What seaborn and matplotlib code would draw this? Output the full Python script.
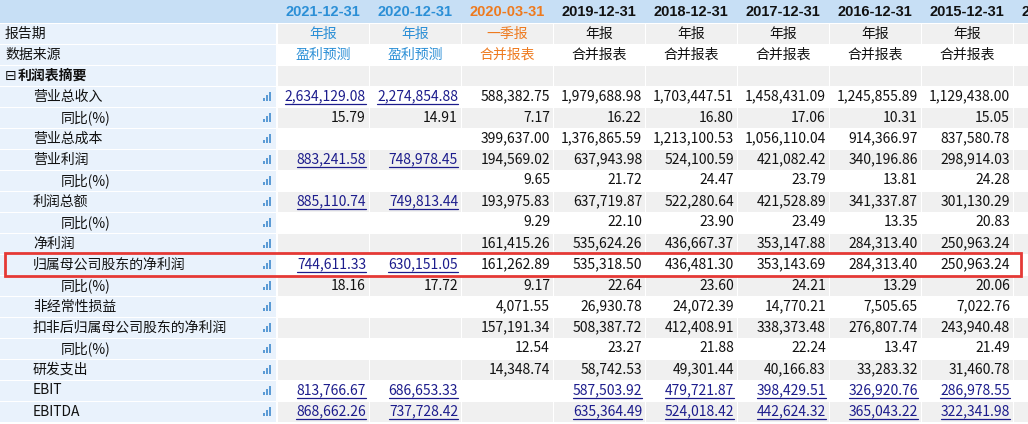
import matplotlib
matplotlib.use("Agg")
import matplotlib.pyplot as plt
import seaborn as sns
from matplotlib.patches import Rectangle

sns.set_theme(style="white")
plt.rcParams['font.family'] = ['Noto Sans CJK SC', 'DejaVu Sans']

# ---- data ----
dates = ["2021-12-31", "2020-12-31", "2020-03-31", "2019-12-31", "2018-12-31",
         "2017-12-31", "2016-12-31", "2015-12-31", "2014-12-31"]
report_types = ["年报", "年报", "一季报", "年报", "年报", "年报", "年报", "年报"]
sources = ["盈利预测", "盈利预测", "合并报表", "合并报表", "合并报表", "合并报表",
           "合并报表", "合并报表"]
section_title = "利润表摘要"

row_labels = ["营业总收入", "同比(%)", "营业总成本", "营业利润", "同比(%)", "利润总额",
              "同比(%)", "净利润", "归属母公司股东的净利润", "同比(%)", "非经常性损益",
              "扣非后归属母公司股东的净利润", "同比(%)", "研发支出", "EBIT", "EBITDA"]
row_levels = [1, 2, 1, 1, 2, 1, 2, 1, 1, 2, 1, 1, 2, 1, 1, 1]
values = [
    ["2,634,129.08", "2,274,854.88", "588,382.75", "1,979,688.98", "1,703,447.51", "1,458,431.09", "1,245,855.89", "1,129,438.00"],
    ["15.79", "14.91", "7.17", "16.22", "16.80", "17.06", "10.31", "15.05"],
    ["", "", "399,637.00", "1,376,865.59", "1,213,100.53", "1,056,110.04", "914,366.97", "837,580.78"],
    ["883,241.58", "748,978.45", "194,569.02", "637,943.98", "524,100.59", "421,082.42", "340,196.86", "298,914.03"],
    ["", "", "9.65", "21.72", "24.47", "23.79", "13.81", "24.28"],
    ["885,110.74", "749,813.44", "193,975.83", "637,719.87", "522,280.64", "421,528.89", "341,337.87", "301,130.29"],
    ["", "", "9.29", "22.10", "23.90", "23.49", "13.35", "20.83"],
    ["", "", "161,415.26", "535,624.26", "436,667.37", "353,147.88", "284,313.40", "250,963.24"],
    ["744,611.33", "630,151.05", "161,262.89", "535,318.50", "436,481.30", "353,143.69", "284,313.40", "250,963.24"],
    ["18.16", "17.72", "9.17", "22.64", "23.60", "24.21", "13.29", "20.06"],
    ["", "", "4,071.55", "26,930.78", "24,072.39", "14,770.21", "7,505.65", "7,022.76"],
    ["", "", "157,191.34", "508,387.72", "412,408.91", "338,373.48", "276,807.74", "243,940.48"],
    ["", "", "12.54", "23.27", "21.88", "22.24", "13.47", "21.49"],
    ["", "", "14,348.74", "58,742.53", "49,301.44", "40,166.83", "33,283.32", "31,460.78"],
    ["813,766.67", "686,653.33", "", "587,503.92", "479,721.87", "398,429.51", "326,920.76", "286,978.55"],
    ["868,662.26", "737,728.42", "", "635,364.49", "524,018.42", "442,624.32", "365,043.22", "322,341.98"],
]
# which (row, column) values are links (underlined)
linked = [(0, 0), (0, 1), (3, 0), (3, 1), (5, 0), (5, 1), (8, 0), (8, 1)] + \
         [(r, c) for r in (14, 15) for c in (0, 1, 3, 4, 5, 6, 7)]
highlight_row = 8

# ---- style ----
W, H = 1028, 424
label_w = 277
col_w = 92
header_h = 23
row_h = 21
blue = "#2b8fd6"
orange = "#ee7a1e"
link_color = "#1c1c8c"
header_bg = "#c7dff5"
label_bg = "#e9f2fc"
gray_bg = "#f0f0f0"
fs = 10

fig = plt.figure(figsize=(W / 100, H / 100), dpi=100)
ax = fig.add_axes([0, 0, 1, 1])
ax.set_xlim(0, W)
ax.set_ylim(H, 0)
ax.axis("off")

def col_x(c):
    return label_w + c * col_w

def row_y(i):
    return header_h + i * row_h

def kind_color(c):
    if c >= len(sources):
        return "#111111"
    if report_types[c] == "一季报":
        return orange
    if sources[c] == "盈利预测":
        return blue
    return "#111111"

# header row
ax.add_patch(Rectangle((0, 0), W, header_h, color=header_bg, lw=0))
for c, d in enumerate(dates):
    ax.text(col_x(c) + col_w / 2, header_h / 2 + 1, d, ha="center", va="center",
            fontsize=10.5, fontweight="bold", color=kind_color(c), family="Liberation Sans",
            clip_on=True)

all_rows = ["报告期", "数据来源", section_title] + row_labels
texts_to_underline = []
for i, lab in enumerate(all_rows):
    y0 = row_y(i)
    yc = y0 + row_h / 2
    ax.add_patch(Rectangle((0, y0 + 1), label_w - 1, row_h - 1, color=label_bg, lw=0))
    bg = gray_bg if i % 2 == 0 else "white"
    for c in range(len(dates)):
        ax.add_patch(Rectangle((col_x(c) + 1, y0 + 1), col_w - 1, row_h - 1, color=bg, lw=0))
    if i == 0:
        ax.text(5, yc, lab, ha="left", va="center", fontsize=fs, color="#111111")
        for c, t in enumerate(report_types):
            ax.text(col_x(c) + col_w / 2, yc, t, ha="center", va="center", fontsize=fs,
                    color=kind_color(c))
    elif i == 1:
        ax.text(5, yc, lab, ha="left", va="center", fontsize=fs, color="#111111")
        for c, t in enumerate(sources):
            ax.text(col_x(c) + col_w / 2, yc, t, ha="center", va="center", fontsize=fs,
                    color=kind_color(c))
    elif i == 2:
        ax.text(5, yc, "⊟", ha="left", va="center", fontsize=fs, color="#111111", family="DejaVu Sans")
        ax.text(18, yc, lab, ha="left", va="center", fontsize=fs, fontweight="bold", color="#111111")
    else:
        r = i - 3
        ax.text(5 + 28 * row_levels[r], yc, lab, ha="left", va="center", fontsize=fs, color="#111111")
        # small bar-chart icon
        for k, h in enumerate([3, 6, 9]):
            ax.add_patch(Rectangle((263 + k * 3, yc + 4 - h), 2, h, color="#5b9bd5", lw=0))
        for c, v in enumerate(values[r]):
            if not v:
                continue
            is_link = (r, c) in linked
            t = ax.text(col_x(c) + col_w - 3, yc, v, ha="right", va="center", fontsize=fs,
                        color=link_color if is_link else "#111111")
            if is_link:
                texts_to_underline.append((t, yc + 7.5))

# underline links using rendered text widths
fig.canvas.draw()
inv = ax.transData.inverted()
for t, uy in texts_to_underline:
    bb = t.get_window_extent()
    x0 = inv.transform((bb.x0, 0))[0]
    x1 = inv.transform((bb.x1, 0))[0]
    ax.plot([x0, x1], [uy, uy], color=link_color, lw=0.9)

# highlighted row
hy = row_y(highlight_row + 3)
ax.add_patch(Rectangle((5, hy - 1), 1016, row_h + 2, fill=False, edgecolor="#e53935", lw=2))

fig.savefig("out.png", dpi=100)
